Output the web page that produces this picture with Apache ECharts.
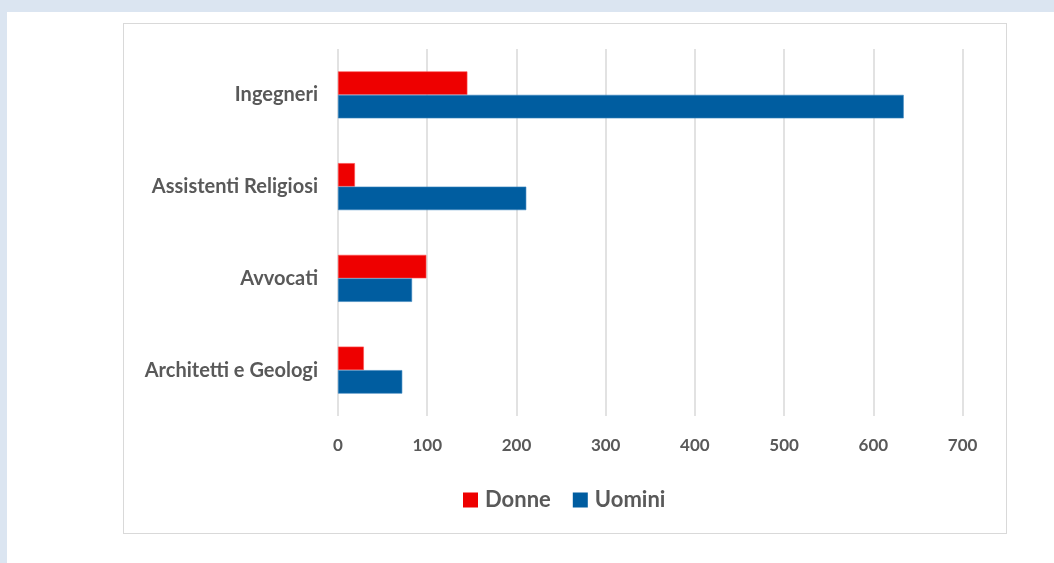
<!DOCTYPE html>
<html><head><meta charset="utf-8">
<script src="https://cdn.jsdelivr.net/npm/echarts@6/dist/echarts.min.js"></script>
<style>
html,body{margin:0;padding:0;width:1054px;height:563px;overflow:hidden;background:#dbe5f1;}
#white{position:absolute;left:7px;top:12px;right:0;bottom:0;background:#fff;}
#frame{position:absolute;left:123px;top:23px;width:882px;height:509px;border:1.5px solid #d9d9d9;}
#chart{position:absolute;left:0;top:0;width:1054px;height:563px;}
</style></head>
<body>
<div id="white"></div><div id="frame"></div><div id="chart"></div>
<script>
const categories = ['Architetti e Geologi', 'Avvocati', 'Assistenti Religiosi', 'Ingegneri'];
const donne = [29, 99, 19, 145];
const uomini = [72, 83, 211, 634];
const xTicks = [0, 100, 200, 300, 400, 500, 600, 700];

const chart = echarts.init(document.getElementById('chart'), null, {renderer: 'canvas'});
const font = 'Lato, "Open Sans", sans-serif';
chart.setOption({
  animation: false,
  backgroundColor: 'transparent',
  textStyle: {fontFamily: font},
  grid: {left: 338, right: 91.4, top: 49, bottom: 147, outerBoundsMode: 'none'},
  legend: {
    data: ['Donne', 'Uomini'],
    left: 458, top: 484,
    itemWidth: 15, itemHeight: 15, itemGap: 22,
    icon: 'rect',
    itemStyle: {borderWidth: 0},
    textStyle: {fontSize: 22, fontWeight: 'bold', color: '#595959', fontFamily: font, padding: [0, 0, 0, 2]}
  },
  xAxis: {
    type: 'value', min: xTicks[0], max: xTicks[xTicks.length - 1], interval: 100,
    axisLine: {show: false}, axisTick: {show: false},
    splitLine: {lineStyle: {color: '#d9d9d9', width: 1.5}},
    axisLabel: {color: '#595959', fontSize: 17, fontWeight: 'bold', margin: 21, fontFamily: font}
  },
  yAxis: {
    type: 'category', data: categories,
    axisLine: {show: false}, axisTick: {show: false},
    axisLabel: {color: '#595959', fontSize: 20, fontWeight: 'bold', margin: 20, fontFamily: font}
  },
  series: [
    {name: 'Donne', type: 'bar', data: donne, barWidth: 23.5, barGap: '0%',
     itemStyle: {color: '#ee0000', borderColor: '#ff5050', borderWidth: 0.6}},
    {name: 'Uomini', type: 'bar', data: uomini, barWidth: 23.5, barGap: '0%',
     itemStyle: {color: '#005da0', borderColor: '#3d86c0', borderWidth: 0.6}}
  ]
});
</script>
</body></html>
